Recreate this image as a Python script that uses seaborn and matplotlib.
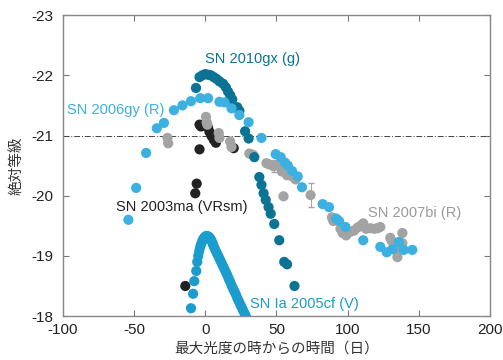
import pandas as pd
import seaborn as sns
import matplotlib.pyplot as plt

# SN 2003ma (VRsm)
ma_day = [-14, -7, -6, -4, -4, -3, 2, 3, 4.5, 6, 7.5, 20]
ma_mag = [-18.5, -20.04, -20.2, -20.77, -21.18, -21.15, -21.13, -21.06, -20.99, -20.93, -20.88, -20.79]

# SN 2007bi (R)
bi_day = [-26.5, -26, 0.5, 1, 1.5, 9.5, 10, 17.5, 18.5, 31, 33.5, 43, 45, 48, 51, 54,
          57.5, 61, 63.5, 55, 74, 89, 90, 95, 96.5, 99, 102, 104.5, 107, 109, 111, 113,
          116, 119, 121, 123, 130, 131, 135, 135, 138.5, 138.5]
bi_mag = [-20.96, -20.87, -21.31, -21.22, -21.18, -21.04, -20.96, -20.9, -20.81, -20.7,
          -20.68, -20.54, -20.52, -20.49, -20.5, -20.4, -20.34, -20.32, -20.27, -19.99,
          -20.01, -19.64, -19.58, -19.45, -19.38, -19.34, -19.4, -19.42, -19.47, -19.5,
          -19.54, -19.45, -19.46, -19.45, -19.46, -19.48, -19.3, -19.25, -19.13, -18.98,
          -19.38, -19.21]
bi_err_day = [74, 48]
bi_err_mag = [-20.01, -20.49]
bi_err = [0.2, 0.1]

# SN 2010gx (g)
gx_day = [-6.5, -4, -2, 0, 2, 4, 6, 8, 10, 12.5, 14.5, 16, 17.5, 19, 22.5, 24, 28,
          30.5, 34.5, 38, 39.5, 41, 42.5, 44.5, 46, 48.5, 52, 55.5, 57.5, 62.7]
gx_mag = [-21.79, -21.97, -22.0, -22.02, -22.01, -22.0, -21.97, -21.94, -21.9, -21.86,
          -21.8, -21.73, -21.67, -21.6, -21.47, -21.41, -21.07, -20.95, -20.64, -20.31,
          -20.18, -20.04, -19.93, -19.81, -19.7, -19.53, -19.26, -18.9, -18.86, -18.5]

# SN 2006gy (R)
gy_day = [-54, -48.5, -41.5, -34, -29, -22, -16, -10, -3.5, 2, 10, 13.5, 18.5, 24,
          30.5, 39.5, 49.5, 53, 56, 58, 61, 65, 68, 82.5, 87, 92, 94, 98.5, 111, 123,
          127.5, 131.5, 136, 139.5, 145.5]
gy_mag = [-19.6, -20.13, -20.71, -21.12, -21.21, -21.42, -21.5, -21.57, -21.62, -21.62,
          -21.56, -21.55, -21.45, -21.34, -21.22, -20.96, -20.69, -20.64, -20.55, -20.5,
          -20.41, -20.32, -20.14, -19.86, -19.81, -19.62, -19.58, -19.48, -19.26, -19.15,
          -19.06, -19.11, -19.23, -19.1, -19.1]

# SN Ia 2005cf (V)
cf_day = [-10, -8.5, -7.7, -6.3, -5.6, -4.9, -4.2, -3.5, -2.8, -2, -1.4, -0.7, 0, 0.7,
          1.4, 2, 2.8, 3.5, 4.2, 5, 5.6, 6.5, 7.5, 8.5, 9.5, 10.5, 11.5, 12.5, 13.5, 14.5,
          15.5, 16.5, 17.5, 18.5, 19.5, 20.5, 21.5, 22.5, 23.5, 24.5, 25.5, 26.5, 27.5,
          28.5, 29.5]
cf_mag = [-18.13, -18.37, -18.58, -18.75, -18.9, -19.0, -19.08, -19.15, -19.2, -19.25,
          -19.28, -19.3, -19.32, -19.33, -19.33, -19.32, -19.31, -19.29, -19.26, -19.22,
          -19.18, -19.13, -19.08, -19.03, -18.98, -18.93, -18.88, -18.83, -18.78, -18.73,
          -18.68, -18.62, -18.57, -18.51, -18.46, -18.41, -18.36, -18.3, -18.25, -18.2,
          -18.15, -18.1, -18.05, -18.0, -17.95]

names = ["SN 2003ma", "SN 2007bi", "SN 2010gx", "SN 2006gy", "SN 2005cf"]
colors = {"SN 2003ma": "#222222", "SN 2007bi": "#a3a3a3", "SN 2010gx": "#0b7394",
          "SN 2006gy": "#3cb0e0", "SN 2005cf": "#1a9ccc"}

frames = []
for name, d, m in zip(names, [ma_day, bi_day, gx_day, gy_day, cf_day],
                      [ma_mag, bi_mag, gx_mag, gy_mag, cf_mag]):
    frames.append(pd.DataFrame({"day": d, "mag": m, "sn": name}))
df = pd.concat(frames, ignore_index=True)

sns.set_style("ticks")
plt.rcParams["font.family"] = ["Liberation Sans", "Noto Sans CJK JP", "DejaVu Sans"]
plt.rcParams["axes.unicode_minus"] = False

fig = plt.figure(figsize=(5.03, 3.6), dpi=100)
ax = fig.add_axes([0.125, 0.122, 0.849, 0.836])

# 基準線 -21 等
ax.axhline(-21, color="#444444", lw=0.7, ls=(0, (6, 2, 1, 2)), zorder=1)
ax.errorbar(bi_err_day, bi_err_mag, yerr=bi_err, fmt="none", ecolor="#a3a3a3",
            elinewidth=0.7, capsize=2, zorder=1)

sns.scatterplot(data=df, x="day", y="mag", hue="sn", palette=colors, s=54,
                linewidth=0, legend=False, ax=ax, zorder=2)

ax.set_xlim(-100, 200)
ax.set_ylim(-18, -23)
ax.set_xticks(range(-100, 201, 50))
ax.set_yticks(range(-23, -17))
ax.tick_params(direction="in", top=True, right=True, length=4, color="#777777",
               labelsize=11, labelcolor="#222222", pad=5)
ax.tick_params(axis="y", pad=7)
for sp in ax.spines.values():
    sp.set_color("#888888")
    sp.set_linewidth(1)

ax.set_xlabel("最大光度の時からの時間（日）", fontsize=10.5, color="#333333",
              family=["Noto Sans CJK JP", "DejaVu Sans"], labelpad=3)
ax.set_ylabel("絶対等級", fontsize=10.5, color="#333333",
              family=["Noto Sans CJK JP", "DejaVu Sans"], labelpad=5)

lab = dict(fontsize=10.5, ha="left", va="center")
ax.text(0, -22.27, "SN 2010gx (g)", color=colors["SN 2010gx"], **lab)
ax.text(-97, -21.42, "SN 2006gy (R)", color=colors["SN 2006gy"], **lab)
ax.text(-63, -19.81, "SN 2003ma (VRsm)", color="#222222", **lab)
ax.text(114, -19.71, "SN 2007bi (R)", color="#9a9a9a", **lab)
ax.text(31.5, -18.2, "SN Ia 2005cf (V)", color=colors["SN 2005cf"], **lab)

plt.savefig("out.png", dpi=100)
